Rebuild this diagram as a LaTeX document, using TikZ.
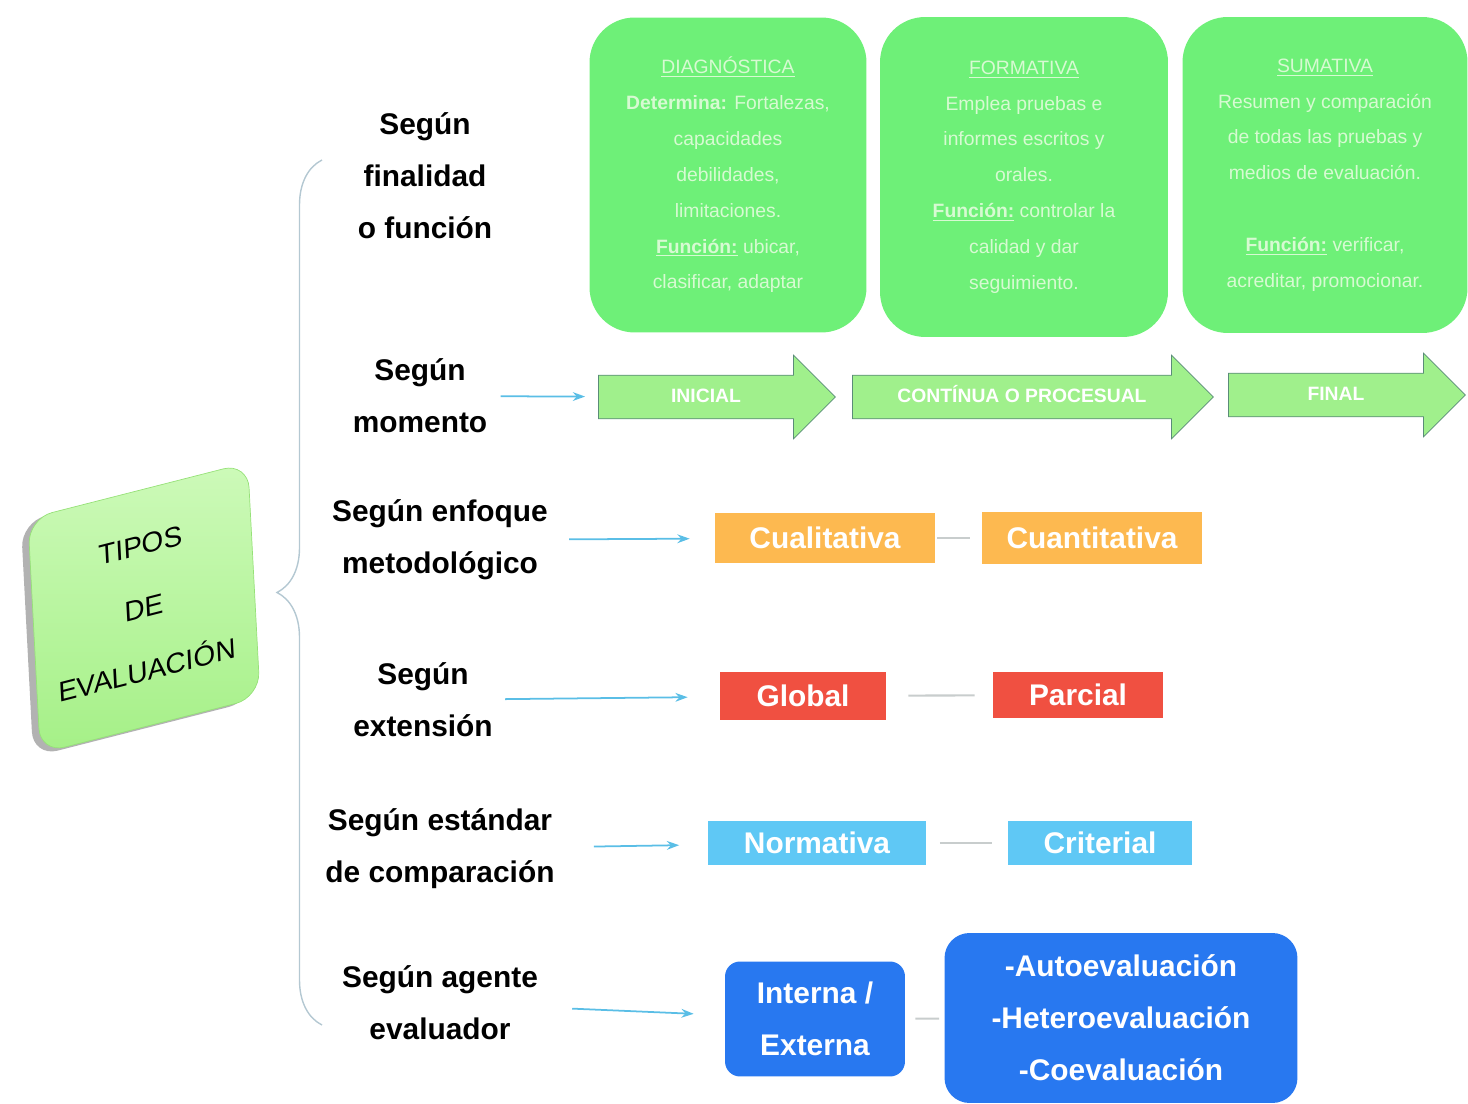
\documentclass[tikz,border=0pt]{standalone}
\usepackage{fontspec}
\setmainfont{Liberation Sans}
\usetikzlibrary{shapes.arrows,shadows,decorations.pathreplacing,arrows.meta}
\definecolor{verde}{RGB}{110,240,120}
\definecolor{textoverde}{RGB}{215,250,210}
\definecolor{verdeflecha}{RGB}{160,240,140}
\definecolor{naranja}{RGB}{253,185,80}
\definecolor{rojo}{RGB}{240,80,65}
\definecolor{celeste}{RGB}{95,200,245}
\definecolor{azul}{RGB}{40,120,240}
\definecolor{flechaazul}{RGB}{90,190,230}
\definecolor{gris}{RGB}{200,205,205}
\definecolor{grisazul}{RGB}{180,200,210}
\begin{document}
\begin{tikzpicture}[x=0.02cm,y=-0.02cm,
	main/.style = {rounded corners=0.5cm, rotate=3, yslant=0.2, minimum width=4.45cm, minimum height=4.7cm,
		top color={rgb,255:red,205;green,250;blue,185}, bottom color={rgb,255:red,165;green,240;blue,135},
		draw={rgb,255:red,150;green,225;blue,120},
		drop shadow={shadow xshift=-4pt, shadow yshift=-2pt, fill=black!60, opacity=0.5},
		align=center, font=\fontsize{16}{35.7}\selectfont},
	tema/.style = {align=center, inner sep=0pt, font=\bfseries\fontsize{17}{29.5}\selectfont},
	verdebox/.style = {fill=verde, rounded corners=0.9cm, align=center, text=textoverde,
		font=\fontsize{11}{20.4}\selectfont},
	flecha/.style = {single arrow, single arrow head extend=0.4cm, fill=verdeflecha,
		draw={rgb,255:red,90;green,140;blue,120}, line width=0.4pt, text=white,
		font=\bfseries\fontsize{11}{13}\selectfont, text height=8pt, text depth=2pt,
		inner ysep=0.254cm, inner xsep=0pt},
	caja/.style = {minimum height=1cm, inner sep=0pt, text=white, font=\bfseries\fontsize{17}{20}\selectfont},
	enlace/.style = {draw=flechaazul, line width=1pt, -{Stealth[length=7pt,width=5pt]}},
	linea/.style = {draw=gris, line width=1.2pt},
	llave/.style = {draw=grisazul, line width=0.8pt, decorate, decoration={brace, amplitude=0.9cm}}]
	\useasboundingbox (0,0) rectangle (1468,1104);

	\node[main] (tipos) at (144,608) {TIPOS\\DE\\EVALUACIÓN};
	\draw[llave] (322,1025) -- (322,160);

	\node[tema] (fin) at (425,176) {Según\\finalidad\\o función};
	\node[tema] (mom) at (420,396) {Según\\momento};
	\node[tema] (enf) at (440,540) {Según enfoque\\metodológico};
	\node[tema] (ext) at (423,700) {Según\\extensión};
	\node[tema] (est) at (440,849) {Según estándar\\de comparación};
	\node[tema] (age) at (440,1003) {Según agente\\evaluador};

	\node[verdebox, minimum width=5.54cm, minimum height=6.3cm] (diag) at (728,175)
		{\underline{DIAGNÓSTICA}\\\textbf{Determina:} Fortalezas,\\capacidades\\debilidades,\\limitaciones.\\\textbf{\underline{Función:}} ubicar,\\clasificar, adaptar};
	\node[verdebox, minimum width=5.76cm, minimum height=6.4cm] (form) at (1024,177)
		{\underline{FORMATIVA}\\Emplea pruebas e\\informes escritos y\\orales.\\\textbf{\underline{Función:}} controlar la\\calidad y dar\\seguimiento.};
	\node[verdebox, minimum width=5.7cm, minimum height=6.32cm] (suma) at (1325,175)
		{\underline{SUMATIVA}\\Resumen y comparación\\de todas las pruebas y\\medios de evaluación.\\[20.4pt]\textbf{\underline{Función:}} verificar,\\acreditar, promocionar.};

	\node[flecha, minimum height=4.74cm] (ini) at (706,397) {INICIAL};
	\node[flecha, minimum height=7.22cm] (cont) at (1022,397) {CONTÍNUA O PROCESUAL};
	\node[flecha, minimum height=4.74cm] (final) at (1336,395) {FINAL};

	\node[caja, fill=naranja, minimum width=4.4cm] (cual) at (825,538) {Cualitativa};
	\node[caja, fill=naranja, minimum width=4.4cm, minimum height=1.06cm] (cuant) at (1092,538) {Cuantitativa};
	\node[caja, fill=rojo, minimum width=3.32cm, minimum height=0.96cm] (glob) at (803,696) {Global};
	\node[caja, fill=rojo, minimum width=3.4cm, minimum height=0.92cm] (parc) at (1078,695) {Parcial};
	\node[caja, fill=celeste, minimum width=4.38cm, minimum height=0.9cm] (norm) at (817,843) {Normativa};
	\node[caja, fill=celeste, minimum width=3.7cm, minimum height=0.9cm] (crit) at (1100,843) {Criterial};
	\node[caja, fill=azul, rounded corners=0.3cm, minimum width=3.6cm, minimum height=2.3cm,
		align=center, font=\bfseries\fontsize{17}{29.5}\selectfont] (intext) at (815,1019) {Interna /\\Externa};
	\node[caja, fill=azul, rounded corners=0.5cm, minimum width=7.06cm, minimum height=3.4cm,
		align=center, font=\bfseries\fontsize{17}{29.5}\selectfont] (autos) at (1121,1018)
		{-Autoevaluación\\-Heteroevaluación\\-Coevaluación};

	\draw[enlace, shorten <=0.26cm, shorten >=0.26cm] (mom) -- (ini);
	\draw[enlace, shorten <=0.42cm, shorten >=0.5cm] (enf) -- (cual);
	\draw[enlace, shorten <=0.24cm, shorten >=0.64cm] (ext) -- (glob);
	\draw[enlace, shorten <=0.78cm, shorten >=0.56cm] (est) -- (norm);
	\draw[enlace, shorten <=0.68cm, shorten >=0.62cm] (age) -- (intext);

	\draw[linea, shorten <=0.04cm, shorten >=0.24cm] (cual) -- (cuant);
	\draw[linea, shorten <=0.44cm, shorten >=0.36cm] (glob) -- (parc);
	\draw[linea, shorten <=0.26cm, shorten >=0.3cm] (norm) -- (crit);
	\draw[linea, shorten <=0.2cm, shorten >=0.1cm] (intext) -- (autos);
\end{tikzpicture}
\end{document}
